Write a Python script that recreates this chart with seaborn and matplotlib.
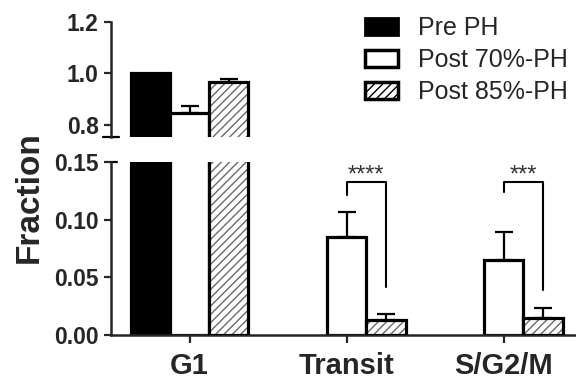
import pandas as pd
import matplotlib
matplotlib.use('Agg')
import matplotlib.pyplot as plt
import matplotlib.patches as mpatches
from matplotlib.patches import Rectangle
import seaborn as sns

# data
phases = ['G1', 'Transit', 'S/G2/M']
groups = ['Pre PH', 'Post 70%-PH', 'Post 85%-PH']
pre_ph = [1.0, 0.0, 0.0]
post_70 = [0.845, 0.085, 0.065]
post_85 = [0.965, 0.013, 0.015]
err_pre = [0.0, 0.0, 0.0]
err_70 = [0.030, 0.022, 0.024]
err_85 = [0.015, 0.005, 0.008]
top_ticks = [0.8, 1.0, 1.2]
bottom_ticks = [0.00, 0.05, 0.10, 0.15]
# significance brackets between Post 70% and Post 85%
sig_phase = [1, 2]
sig_text = ['****', '***']
sig_top = [0.1326, 0.1326]
sig_left_end = [0.121, 0.124]
sig_right_end = [0.042, 0.039]

df = pd.DataFrame({
    'phase': phases * 3,
    'group': [groups[0]] * 3 + [groups[1]] * 3 + [groups[2]] * 3,
    'frac': pre_ph + post_70 + post_85,
    'err': err_pre + err_70 + err_85,
})

sns.set_style('ticks')
plt.rcParams['font.family'] = ['Liberation Sans', 'DejaVu Sans']
plt.rcParams['hatch.linewidth'] = 1.0

W, H = 576, 379
fig = plt.figure(figsize=(W / 100, H / 100), dpi=100)
fig.patch.set_facecolor('white')

left = 111 / W
width = (W - 111) / W
ax_top = fig.add_axes([left, (H - 137) / H, width, 115 / H])
ax_bot = fig.add_axes([left, (H - 335) / H, width, 173 / H])

edge_lw = 2.3
bar_conts = {}
for ax in (ax_top, ax_bot):
    sns.barplot(data=df, x='phase', y='frac', hue='group', order=phases,
                hue_order=groups, width=0.75, errorbar=None, legend=False,
                palette=['black', 'white', 'white'], ax=ax)
    conts = list(ax.containers)
    bar_conts[ax] = conts
    for gi, cont in enumerate(conts):
        for p in cont.patches:
            p.set_zorder(2)
            if p.get_height() == 0:
                p.set_visible(False)
                continue
            if gi == 0:
                p.set_facecolor('black')
                p.set_edgecolor('black')
                p.set_linewidth(edge_lw)
            elif gi == 1:
                p.set_facecolor('white')
                p.set_edgecolor('black')
                p.set_linewidth(edge_lw)
            else:
                p.set_facecolor('white')
                p.set_edgecolor('#6a6a6a')
                p.set_hatch('////')
                p.set_linewidth(0)
                ax.add_patch(Rectangle(p.get_xy(), p.get_width(), p.get_height(),
                                       fill=False, edgecolor='black',
                                       linewidth=edge_lw, zorder=3))
    # one-sided error bars
    for gi, cont in enumerate(conts):
        sub = df[df['group'] == groups[gi]].set_index('phase').loc[phases]
        xs = [p.get_x() + p.get_width() / 2 for p in cont.patches]
        errs = sub['err'].values
        keep = [i for i in range(len(xs)) if errs[i] > 0]
        if keep:
            ax.errorbar([xs[i] for i in keep], sub['frac'].values[keep],
                        yerr=[[0] * len(keep), errs[keep]], fmt='none',
                        ecolor='black', elinewidth=1.6, capsize=6.5,
                        capthick=1.6, zorder=4)
    ax.set_xlim(-0.5, 2.46)
    ax.set_xlabel('')
    ax.set_ylabel('')
    for s in ['top', 'right']:
        ax.spines[s].set_visible(False)
    ax.spines['left'].set_linewidth(1.8)
    ax.tick_params(axis='y', length=5, width=1.6, labelsize=16.5, pad=4)

ax_top.set_ylim(0.753, 1.2)
ax_top.set_yticks(top_ticks)
ax_top.set_yticklabels(['%.1f' % t for t in top_ticks], fontweight='bold')
ax_top.spines['bottom'].set_visible(False)
ax_top.tick_params(axis='x', bottom=False, labelbottom=False)

ax_bot.set_ylim(0, 0.15)
ax_bot.set_yticks(bottom_ticks)
ax_bot.set_yticklabels(['%.2f' % t for t in bottom_ticks], fontweight='bold')
ax_bot.spines['bottom'].set_linewidth(1.8)
ax_bot.set_xticks(range(len(phases)))
ax_bot.set_xticklabels(phases, fontsize=21, fontweight='bold')
ax_bot.tick_params(axis='x', length=6, width=1.6, pad=6)

# break marks on the y axis
ax_top.plot([-0.018, 0.018], [0, 0], transform=ax_top.transAxes, color='black',
            lw=1.6, clip_on=False)
ax_bot.plot([0, 0.012], [1, 1], transform=ax_bot.transAxes, color='black',
            lw=1.6, clip_on=False)

# significance brackets from bar positions
c70, c85 = bar_conts[ax_bot][1], bar_conts[ax_bot][2]
for k, pi in enumerate(sig_phase):
    x0 = c70.patches[pi].get_x() + c70.patches[pi].get_width() / 2
    x1 = c85.patches[pi].get_x() + c85.patches[pi].get_width() / 2
    ax_bot.plot([x0, x0, x1, x1], [sig_left_end[k], sig_top[k], sig_top[k], sig_right_end[k]],
                color='black', lw=1.5, clip_on=False, zorder=5)
    ax_bot.text((x0 + x1) / 2, sig_top[k] + 0.0005, sig_text[k], ha='center',
                va='baseline', fontsize=17, color='#333333', clip_on=False)

fig.text(29 / W, 1 - 197 / H, 'Fraction', rotation=90, ha='center', va='center',
         fontsize=24, fontweight='bold')

handles = [
    mpatches.Patch(facecolor='black', edgecolor='black', linewidth=2.0),
    mpatches.Patch(facecolor='white', edgecolor='black', linewidth=2.5),
    mpatches.Patch(facecolor='white', edgecolor='black', linewidth=2.5, hatch='////'),
]
fig.legend(handles, groups, loc='upper left', bbox_to_anchor=(365 / W, 1 - 16 / H),
           frameon=False, fontsize=18, handlelength=1.3, handleheight=0.65,
           handletextpad=0.8, labelspacing=0.32, borderpad=0, borderaxespad=0)

fig.savefig('out.png', dpi=100, facecolor='white')
